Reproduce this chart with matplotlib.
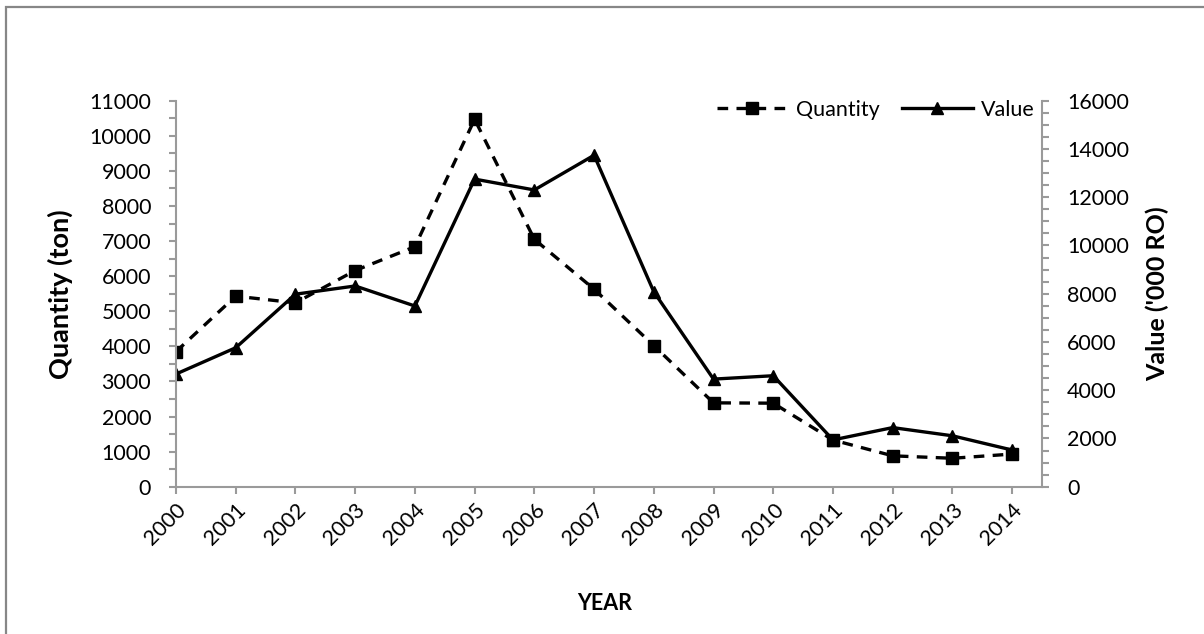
import matplotlib
matplotlib.use('Agg')
import matplotlib.pyplot as plt
from matplotlib.patches import Rectangle

plt.rcParams['font.family'] = ['Lato', 'DejaVu Sans']

years = ['2000', '2001', '2002', '2003', '2004', '2005', '2006', '2007',
         '2008', '2009', '2010', '2011', '2012', '2013', '2014']
quantity = [3850, 5430, 5240, 6160, 6840, 10470, 7050, 5630,
            4020, 2390, 2380, 1330, 880, 810, 930]
value = [4670, 5760, 7980, 8320, 7490, 12750, 12300, 13740,
         8080, 4460, 4600, 1940, 2450, 2110, 1520]

W, H = 1204, 634
fig = plt.figure(figsize=(W / 100, H / 100), dpi=100, facecolor='white')

# outer chart border (cut off at right / bottom in the original)
fig.patches.append(Rectangle((6 / W, -0.1), 1.2, 1 - 7 / H + 0.1,
                             transform=fig.transFigure, fill=False,
                             edgecolor='#878787', linewidth=1.6))

left, right = 176 / W, 1042 / W
bottom, top = 1 - 486.7 / H, 1 - 100.7 / H
ax = fig.add_axes([left, bottom, right - left, top - bottom])
ax2 = ax.twinx()

grey = '#9a9a9a'
x = list(range(len(years)))

ax2.plot(x, value, color='black', linewidth=2.4, marker='^', markersize=9,
         label='Value')
ax.plot(x, quantity, color='black', linewidth=2.4, linestyle=(0, (3.2, 2.5)),
        marker='s', markersize=9, label='Quantity')

# keep squares above triangles
ax.set_zorder(ax2.get_zorder() + 1)
ax.patch.set_visible(False)

ax.set_xlim(0, 14.5)
ax.set_ylim(0, 11000)
ax2.set_ylim(0, 16000)

ax.set_xticks(x)
ax.set_xticklabels(years, rotation=45, ha='right', rotation_mode='anchor')

lt = list(range(0, 11001, 500))
ax.set_yticks(lt)
ax.set_yticklabels([str(v) if v % 1000 == 0 else '' for v in lt])
rt = list(range(0, 16001, 500))
ax2.set_yticks(rt)
ax2.set_yticklabels([str(v) if v % 2000 == 0 else '' for v in rt])

for a in (ax, ax2):
    for s in a.spines.values():
        s.set_color(grey)
        s.set_linewidth(1.5)
    a.spines['top'].set_visible(False)
    a.tick_params(colors=grey, width=1.5, length=5, labelcolor='black',
                  labelsize=15.5)
ax.spines['right'].set_visible(False)
ax2.spines['left'].set_visible(False)
ax2.spines['bottom'].set_visible(False)
ax.tick_params(axis='y', pad=13)
ax.tick_params(axis='x', pad=4)
ax2.tick_params(axis='y', pad=13)

ax.set_xlabel('YEAR', fontsize=15.5, fontweight='bold')
ax.xaxis.set_label_coords((605 - 176) / 866, (486.7 - 593) / 386)
ax.set_ylabel('Quantity (ton)', fontsize=19.5, fontweight='bold', va='center')
ax.yaxis.set_label_coords((60 - 176) / 866, 0.5)
ax2.set_ylabel("Value ('000 RO)", fontsize=18, fontweight='bold',
               rotation=90, va='center')
ax2.yaxis.set_label_coords((1157 - 176) / 866, 0.5)

h1, l1 = ax.get_legend_handles_labels()
h2, l2 = ax2.get_legend_handles_labels()
fig.legend(h1 + h2, l1 + l2, loc='center right',
           bbox_to_anchor=(1035 / W, 1 - 110 / H), ncol=2, frameon=False,
           fontsize=15.5, handlelength=3.3, handletextpad=0.4,
           columnspacing=1.0, borderpad=0, borderaxespad=0)

fig.savefig('out.png', dpi=100, facecolor='white')
